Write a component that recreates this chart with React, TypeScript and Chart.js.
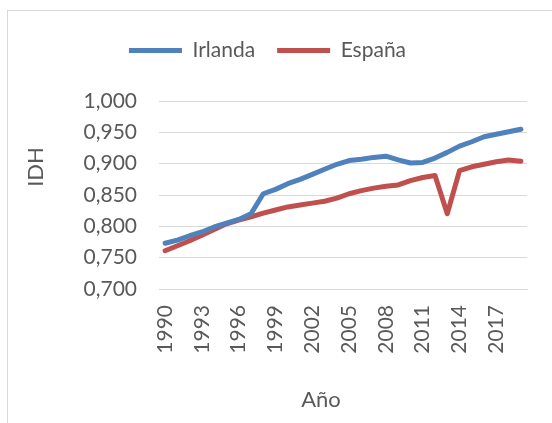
import React, { useEffect, useRef } from 'react';
import { Chart, registerables } from 'chart.js';

Chart.register(...registerables);

const years = [
  '1990', '1991', '1992', '1993', '1994', '1995', '1996', '1997', '1998', '1999',
  '2000', '2001', '2002', '2003', '2004', '2005', '2006', '2007', '2008', '2009',
  '2010', '2011', '2012', '2013', '2014', '2015', '2016', '2017', '2018', '2019',
];
const xTickLabels = ['1990', '1993', '1996', '1999', '2002', '2005', '2008', '2011', '2014', '2017'];
const irlanda = [
  0.773, 0.778, 0.785, 0.791, 0.799, 0.805, 0.811, 0.82, 0.852, 0.859,
  0.868, 0.875, 0.883, 0.891, 0.899, 0.905, 0.907, 0.91, 0.912, 0.906,
  0.901, 0.902, 0.909, 0.918, 0.928, 0.935, 0.943, 0.947, 0.951, 0.955,
];
const espana = [
  0.761, 0.769, 0.777, 0.786, 0.795, 0.804, 0.81, 0.815, 0.821, 0.826,
  0.831, 0.834, 0.837, 0.84, 0.845, 0.852, 0.857, 0.861, 0.864, 0.866,
  0.873, 0.878, 0.881, 0.82, 0.889, 0.895, 0.899, 0.903, 0.906, 0.904,
];
const yTicks = [0.7, 0.75, 0.8, 0.85, 0.9, 0.95, 1.0];
const seriesNames = ['Irlanda', 'España'];
const yTitle = 'IDH';
const xTitle = 'Año';

const TEXT = '#595959';
const GRID = '#d9d9d9';
const FONT = 'Lato';

const titlesPlugin = {
  id: 'axisTitles',
  afterDraw(chart: any) {
    const ctx = chart.ctx;
    const a = chart.chartArea;
    ctx.save();
    ctx.fillStyle = TEXT;
    ctx.font = `22px ${FONT}`;
    ctx.textAlign = 'center';
    ctx.textBaseline = 'middle';
    ctx.save();
    ctx.translate(a.left - 123, a.top + 66);
    ctx.rotate(-Math.PI / 2);
    ctx.fillText(yTitle, 0, 0);
    ctx.restore();
    ctx.fillText(xTitle, a.left + 162, a.bottom + 111);
    ctx.restore();
  },
};

// adds blank space beneath the legend row
const legendSpacer = {
  id: 'legendSpacer',
  beforeLayout(chart: any) {
    const lg = chart.legend;
    if (lg && !lg.__spaced) {
      const orig = lg.fit;
      lg.fit = function () {
        orig.call(this);
        this.height += 30;
      };
      lg.__spaced = true;
    }
  },
};

export default function App() {
  const ref = useRef<HTMLCanvasElement | null>(null);

  useEffect(() => {
    if (!ref.current) return;
    const chart = new Chart(ref.current, {
      type: 'line',
      data: {
        labels: years,
        datasets: [
          {
            label: seriesNames[0],
            data: irlanda,
            borderColor: '#4f81bd',
            backgroundColor: '#4f81bd',
            borderWidth: 5,
            pointRadius: 0,
            tension: 0,
            borderCapStyle: 'round',
            borderJoinStyle: 'round',
          },
          {
            label: seriesNames[1],
            data: espana,
            borderColor: '#c0504d',
            backgroundColor: '#c0504d',
            borderWidth: 5,
            pointRadius: 0,
            tension: 0,
            borderCapStyle: 'round',
            borderJoinStyle: 'round',
          },
        ],
      },
      options: {
        responsive: false,
        animation: false,
        layout: { padding: { left: 0, right: 25, top: 7, bottom: 0 } },
        plugins: {
          legend: {
            position: 'top',
            labels: {
              usePointStyle: true,
              pointStyle: 'line',
              pointStyleWidth: 53,
              boxHeight: 5,
              padding: 22,
              color: TEXT,
              font: { family: FONT, size: 21 },
            },
          },
          tooltip: { enabled: false },
        },
        scales: {
          x: {
            type: 'category',
            offset: true,
            grid: { display: false, drawTicks: false },
            border: { display: true, color: GRID, width: 1 },
            ticks: {
              autoSkip: false,
              minRotation: 90,
              maxRotation: 90,
              padding: 16,
              color: TEXT,
              font: { family: FONT, size: 21 },
              callback: (_v: any, i: number) =>
                xTickLabels.includes(years[i]) ? years[i] : null,
            },
            afterFit: (s: any) => {
              s.height = 134;
            },
          },
          y: {
            min: 0.7,
            max: 1.0,
            grid: { color: GRID, lineWidth: 1, drawTicks: false },
            border: { display: false },
            afterBuildTicks: (s: any) => {
              s.ticks = yTicks.map((v) => ({ value: v }));
            },
            ticks: {
              padding: 22,
              color: TEXT,
              font: { family: FONT, size: 21 },
              callback: (v: any) => Number(v).toFixed(3).replace('.', ','),
            },
            afterFit: (s: any) => {
              s.width = 151;
            },
          },
        },
      },
      plugins: [titlesPlugin, legendSpacer],
    });
    return () => chart.destroy();
  }, []);

  return (
    <div
      style={{
        position: 'absolute',
        left: 7,
        top: 10,
        width: 545,
        height: 413,
        boxSizing: 'border-box',
        borderLeft: `1px solid ${GRID}`,
        borderTop: `1px solid ${GRID}`,
        background: '#fff',
      }}
    >
      <canvas ref={ref} width={544} height={412} style={{ display: 'block' }} />
    </div>
  );
}
